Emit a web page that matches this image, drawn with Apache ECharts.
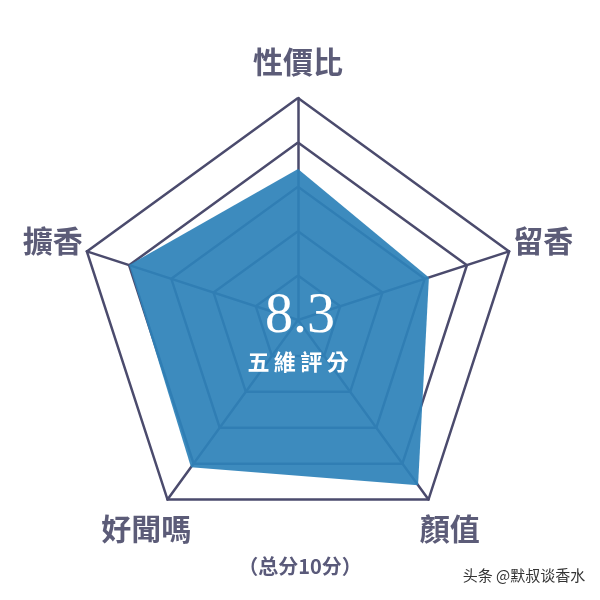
<!DOCTYPE html>
<html>
<head>
<meta charset="utf-8">
<script src="https://cdn.jsdelivr.net/npm/echarts@6/dist/echarts.min.js"></script>
<style>html,body{margin:0;padding:0;background:#fff;}#c{width:600px;height:600px;}</style>
</head>
<body>
<div id="c"></div>
<script>
// ECharts places indicators counter-clockwise starting at the top
const indicators = ['性價比', '擴香', '好聞嗎', '顏值', '留香'];
const maxScore = 10;
const scores = [6.8, 8.0, 8.2, 9.2, 6.2];
const totalScore = '8.3';
const subtitle = '五\u2009維\u2009評\u2009分';
const footnote = '（总分10分）';
const watermark = '头条 @默叔谈香水';

const chart = echarts.init(document.getElementById('c'));
chart.setOption({
  backgroundColor: '#ffffff',
  animation: false,
  radar: {
    center: [298, 320],
    radius: 222,
    startAngle: 90,
    splitNumber: 5,
    shape: 'polygon',
    indicator: indicators.map(n => ({ name: n, max: maxScore, min: 0 })),
    axisName: {
      color: '#5c5c78',
      fontSize: 30,
      fontWeight: 'bold',
      fontFamily: '"Noto Sans CJK TC", sans-serif',
      align: 'center',
      verticalAlign: 'middle'
    },
    nameGap: 36,
    axisLine: { lineStyle: { color: '#4b4b6d', width: 2.5 } },
    splitLine: { lineStyle: { color: '#4b4b6d', width: 2.5 } },
    splitArea: { show: false }
  },
  series: [{
    type: 'radar',
    symbol: 'none',
    z: 2,
    data: [{
      value: scores,
      lineStyle: { width: 0, color: '#2e82b9' },
      areaStyle: { color: '#2e82b9', opacity: 0.93 }
    }]
  }],
  graphic: {
    elements: [
      { type: 'text', z: 100, x: 300, y: 317, style: { text: totalScore, fill: '#ffffff', font: '56px "Liberation Serif", serif', textAlign: 'center', textVerticalAlign: 'middle' } },
      { type: 'text', z: 100, x: 298, y: 362, style: { text: subtitle, fill: '#ffffff', font: 'bold 22px "Noto Sans CJK TC", sans-serif', textAlign: 'center', textVerticalAlign: 'middle' } },
      { type: 'text', z: 100, x: 300, y: 566, style: { text: footnote, fill: '#5a5a7a', font: 'bold 20px "Noto Sans CJK SC", sans-serif', textAlign: 'center', textVerticalAlign: 'middle' } },
      { type: 'text', z: 100, x: 524, y: 575, style: { text: watermark, fill: '#333333', font: '15px "Noto Sans CJK SC", sans-serif', textAlign: 'center', textVerticalAlign: 'middle' } }
    ]
  }
});
</script>
</body>
</html>
